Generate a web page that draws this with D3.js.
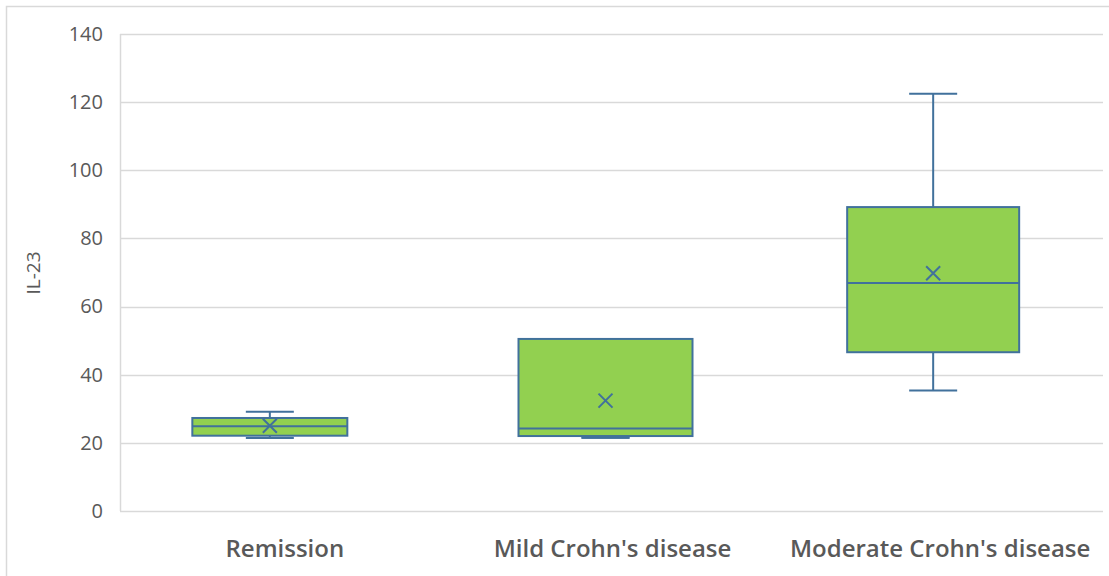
<!DOCTYPE html>
<html>
<head>
<meta charset="utf-8">
<script src="https://cdn.jsdelivr.net/npm/d3@7"></script>
<style>
  body { margin: 0; background: #fff; }
  svg { display: block; }
</style>
</head>
<body>
<div id="chart"></div>
<script>
// data
const categories = ["Remission", "Mild Crohn's disease", "Moderate Crohn's disease"]
const whiskerLow = [21.4, 21.5, 35.4]
const q1 = [22.1, 22.0, 46.6]
const median = [24.9, 24.2, 66.9]
const q3 = [27.3, 50.5, 89.2]
const whiskerHigh = [29.1, 21.5, 122.5]
const mean = [25.0, 32.4, 69.8]
const yTicks = [0, 20, 40, 60, 80, 100, 120, 140]

const W = 1109, H = 576
const plot = { left: 120, right: 1103, top: 34, bottom: 511 }

// box drawing tweaks (pixel offsets / widths per box)
const boxShift = [-14, -6, -6]
const boxW = [155, 174, 172]
const capW = 48

const blue = '#41719c'
const green = '#92d050'
const textColor = '#595959'
const font = '"Open Sans", "Noto Sans", sans-serif'

const svg = d3.select('#chart').append('svg')
  .attr('width', W)
  .attr('height', H)

// outer frame
svg.append('rect')
  .attr('x', 6.5).attr('y', 6.5)
  .attr('width', W + 20).attr('height', H + 20)
  .attr('fill', 'none')
  .attr('stroke', '#d9d9d9')
  .attr('stroke-width', 1.5)

const y = d3.scaleLinear()
  .domain([0, 140])
  .range([plot.bottom, plot.top])

const x = d3.scaleBand()
  .domain(categories)
  .range([plot.left, plot.right])

// gridlines
svg.append('g')
  .selectAll('line')
  .data(yTicks)
  .join('line')
  .attr('x1', plot.left)
  .attr('x2', plot.right)
  .attr('y1', d => Math.round(y(d)) + 0.5)
  .attr('y2', d => Math.round(y(d)) + 0.5)
  .attr('stroke', '#d9d9d9')
  .attr('stroke-width', 1.5)

// y axis line
svg.append('line')
  .attr('x1', plot.left + 0.5).attr('x2', plot.left + 0.5)
  .attr('y1', plot.top).attr('y2', plot.bottom)
  .attr('stroke', '#d9d9d9')
  .attr('stroke-width', 1.5)

// y axis tick labels
const yAxis = d3.axisLeft(y).tickValues(yTicks).tickSize(0).tickPadding(17)
const yg = svg.append('g')
  .attr('transform', 'translate(' + plot.left + ',0)')
  .call(yAxis)
yg.select('.domain').remove()
yg.selectAll('text')
  .attr('fill', textColor)
  .style('font-family', font)
  .style('font-size', '20px')

// y axis title
svg.append('text')
  .attr('transform', 'translate(40,273) rotate(-90)')
  .attr('text-anchor', 'middle')
  .attr('fill', textColor)
  .style('font-family', font)
  .style('font-size', '19px')
  .text('IL-23')

// category labels
svg.append('g')
  .selectAll('text')
  .data(categories)
  .join('text')
  .attr('x', d => x(d) + x.bandwidth() / 2 + 1)
  .attr('y', 557)
  .attr('text-anchor', 'middle')
  .attr('fill', textColor)
  .style('font-family', font)
  .style('font-weight', 600)
  .style('font-size', '24px')
  .text(d => d)

// boxes
const boxes = svg.append('g')
categories.forEach((c, i) => {
  const cx = x(c) + x.bandwidth() / 2 + boxShift[i]
  const g = boxes.append('g')
  // whiskers
  g.append('line')
    .attr('x1', cx).attr('x2', cx)
    .attr('y1', y(q3[i])).attr('y2', y(whiskerHigh[i]))
    .attr('stroke', blue).attr('stroke-width', 2)
  g.append('line')
    .attr('x1', cx).attr('x2', cx)
    .attr('y1', y(q1[i])).attr('y2', y(whiskerLow[i]))
    .attr('stroke', blue).attr('stroke-width', 2)
  g.append('line')
    .attr('x1', cx - capW / 2).attr('x2', cx + capW / 2)
    .attr('y1', y(whiskerHigh[i])).attr('y2', y(whiskerHigh[i]))
    .attr('stroke', blue).attr('stroke-width', 2)
  g.append('line')
    .attr('x1', cx - capW / 2).attr('x2', cx + capW / 2)
    .attr('y1', y(whiskerLow[i])).attr('y2', y(whiskerLow[i]))
    .attr('stroke', blue).attr('stroke-width', 2)
  // box
  g.append('rect')
    .attr('x', cx - boxW[i] / 2)
    .attr('width', boxW[i])
    .attr('y', y(q3[i]))
    .attr('height', y(q1[i]) - y(q3[i]))
    .attr('fill', green)
    .attr('stroke', blue)
    .attr('stroke-width', 2)
  // median
  g.append('line')
    .attr('x1', cx - boxW[i] / 2).attr('x2', cx + boxW[i] / 2)
    .attr('y1', y(median[i])).attr('y2', y(median[i]))
    .attr('stroke', blue).attr('stroke-width', 2)
  // mean marker
  const my = y(mean[i]), s = 7
  g.append('path')
    .attr('d', 'M' + (cx - s) + ',' + (my - s) + 'L' + (cx + s) + ',' + (my + s) +
      'M' + (cx + s) + ',' + (my - s) + 'L' + (cx - s) + ',' + (my + s))
    .attr('stroke', blue)
    .attr('stroke-width', 2)
    .attr('fill', 'none')
})
</script>
</body>
</html>
